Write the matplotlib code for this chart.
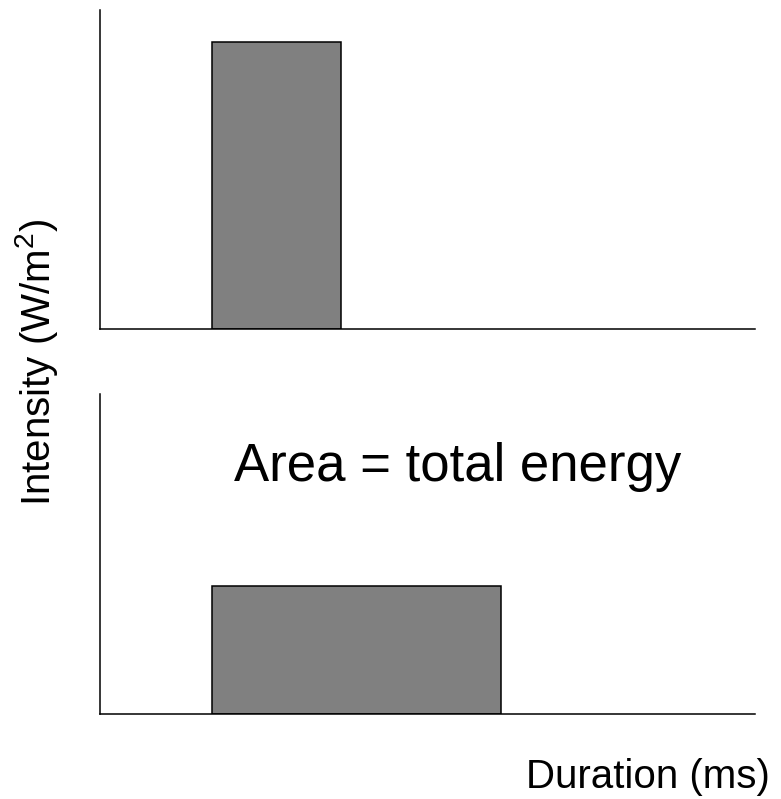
import matplotlib
matplotlib.use('Agg')

import matplotlib.pyplot as plt

plt.rcParams['font.family'] = ['Liberation Sans', 'DejaVu Sans']
plt.rcParams['mathtext.fontset'] = 'custom'
plt.rcParams['mathtext.rm'] = 'Liberation Sans'

# pulse data: (start, duration, intensity) for each panel
pulse_start = [1.75, 1.75]
pulse_width = [2.0, 4.5]
pulse_height = [9.0, 4.0]

x_max = 10.2
y_max = 10.0

W, H = 781, 799
fig = plt.figure(figsize=(W / 100, H / 100), dpi=100)


def px_axes(left, top, right, bottom):
    return fig.add_axes([left / W, 1 - bottom / H, (right - left) / W, (bottom - top) / H])


ax_top = px_axes(100, 10, 755, 329)
ax_bot = px_axes(100, 394, 755, 714)

for ax, x0, w, h in zip([ax_top, ax_bot], pulse_start, pulse_width, pulse_height):
    ax.bar(x0, h, width=w, align='edge', color='#808080',
           edgecolor='black', linewidth=1.1)
    ax.set_xlim(0, x_max)
    ax.set_ylim(0, y_max)
    ax.spines['top'].set_visible(False)
    ax.spines['right'].set_visible(False)
    ax.spines['left'].set_linewidth(1.1)
    ax.spines['bottom'].set_linewidth(1.1)
    ax.set_xticks([])
    ax.set_yticks([])

fig.text(458 / W, 1 - 467 / H, 'Area = total energy',
         ha='center', va='center', fontsize=38)

fig.text(770 / W, 1 - 777 / H, 'Duration (ms)', ha='right', va='center', fontsize=29)
fig.text(37 / W, 1 - 362 / H, r'Intensity (W/m$^\mathrm{2}$)', ha='center', va='center',
         rotation=90, fontsize=29)

fig.savefig('out.png', dpi=100)
